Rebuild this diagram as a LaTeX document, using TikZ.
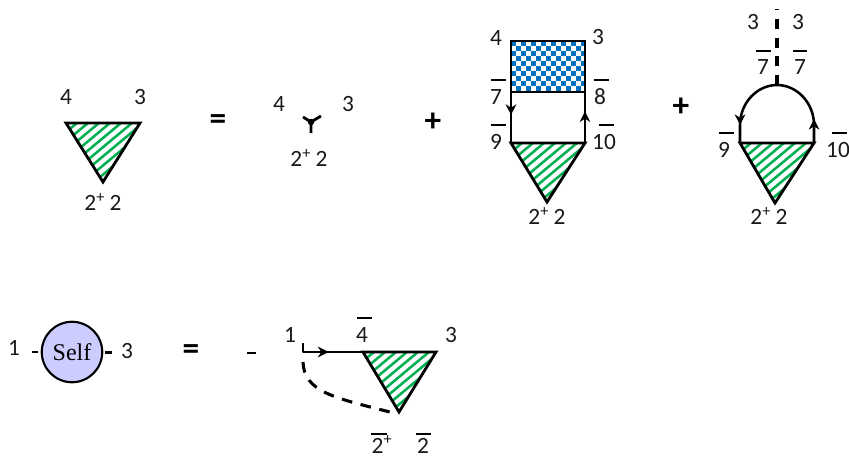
\documentclass[tikz,border=0pt]{standalone}
\usepackage{fontspec}
\setmainfont{Carlito}
\newfontfamily\selffont{Liberation Serif}
\usetikzlibrary{arrows.meta,decorations.markings}
\definecolor{hgreen}{HTML}{00B050}
\definecolor{hblue}{HTML}{0070C0}
\definecolor{selffill}{HTML}{CCCCFF}
\tikzset{
  lab/.style={inner sep=0pt,font=\fontsize{17.5}{17.5}\selectfont,text=black!90},
  sym/.style={inner sep=0pt,font=\fontsize{25}{25}\selectfont\bfseries},
  edge/.style={line width=2.1pt,line join=miter},
  bar/.style={line width=1.9pt},
  tipmid/.style={postaction={decorate},decoration={markings,mark=at position #1 with {\arrow{Stealth[length=8pt,width=8pt]}}}},
}
\newcommand{\hatchtri}[3]{%
  \begin{scope}
    \clip (#1) -- (#2) -- (#3) -- cycle;
    \begin{scope}[shift={(#1)}]
      \foreach \i in {0,11,...,187}
        \draw[hgreen,line width=1.9pt] (\i,0) -- (\i-84,70);
    \end{scope}
  \end{scope}
  \draw[edge] (#1) -- (#2) -- (#3) -- cycle;
}
\begin{document}
\begin{tikzpicture}[x=0.75pt,y=-0.75pt]
\useasboundingbox (0,0) rectangle (849,458);

% first triangle
\coordinate (a1) at (66,123); \coordinate (a2) at (140,123); \coordinate (a3) at (103,182);
\hatchtri{a1}{a2}{a3}
\node[lab] (a4) at (66,97) {4};
\node[lab] (a5) at (140,97) {3};
\node[lab] (a6) at (103,202) {2\textsuperscript{+}\hspace{3.5pt}2};
\node[sym] (eq1) at (218,122) {=};

% small vertex
\coordinate (v0) at (311,122); \coordinate (v1) at (303,117); \coordinate (v2) at (321,116); \coordinate (v3) at (311,133);
\draw[edge] (v1) -- (v0) -- (v2) (v0) -- (v3);
\fill (v0) circle (3.2);
\node[lab] (v4) at (279,104) {4};
\node[lab] (v5) at (348,104) {3};
\node[lab] (v6) at (309,158) {2\textsuperscript{+}\hspace{3.5pt}2};
\node[sym] (pl1) at (433,122) {+};

% box diagram
\coordinate (b1) at (511,41); \coordinate (b2) at (585,41); \coordinate (b3) at (511,92); \coordinate (b4) at (585,92);
\coordinate (b5) at (511,143); \coordinate (b6) at (585,143); \coordinate (b7) at (547,202);
\begin{scope}
  \clip (b1) rectangle (b4);
  \begin{scope}[shift={(b1)}]
    \foreach \i in {0,...,14} \foreach \j in {0,...,10} {
      \pgfmathparse{int(mod(\i+\j,2))}
      \ifnum\pgfmathresult=0
        \fill[hblue] (\i*5,\j*5) rectangle ++(5,5);
      \fi
    }
  \end{scope}
\end{scope}
\hatchtri{b5}{b6}{b7}
\draw[edge] (b1) rectangle (b4);
\draw[edge,tipmid=0.45] (b3) -- (b5);
\draw[edge,tipmid=0.62] (b6) -- (b4);
\node[lab] (b8) at (496,38) {4};
\node[lab] (b9) at (598,37) {3};
\node[lab] (b10) at (496,97) {7};
\node[lab] (b11) at (600,97) {8};
\node[lab] (b12) at (496,142) {9};
\node[lab] (b13) at (604,142) {10};
\node[lab] (b14) at (547,216) {2\textsuperscript{+}\hspace{3.5pt}2};
\draw[bar] (491,80) -- (506,80) (594,80) -- (609,80) (491,125) -- (506,125) (599,125) -- (614,125);

% loop diagram
\node[sym] (pl2) at (681,107) {+};
\coordinate (c1) at (740,143); \coordinate (c2) at (814,143); \coordinate (c3) at (775,203);
\coordinate (c4) at (777,85); \coordinate (c5) at (777,9);
\coordinate (cl) at (740,125); \coordinate (cr) at (814,125);
\coordinate (tl1) at (740,120); \coordinate (tl2) at (740,130);
\coordinate (tr1) at (814,124); \coordinate (tr2) at (814,114);
\hatchtri{c1}{c2}{c3}
\draw[edge,dash pattern=on 7.5pt off 6.5pt,line width=2.7pt] (c4) -- (c5);
\draw[edge,line width=1.9pt] (c2) -- (cr) .. controls (814,103) and (797,85) .. (c4) .. controls (757,85) and (740,103) .. (cl) -- (c1);
\path[tipmid=0.5] (tl1) -- (tl2);
\path[tipmid=0.5] (tr1) -- (tr2);
\node[lab] (c6) at (753,22) {3};
\node[lab] (c7) at (798,22) {3};
\node[lab] (c8) at (763,67) {7};
\node[lab] (c9) at (800,67) {7};
\node[lab] (c10) at (724,150) {9};
\node[lab] (c11) at (838,150) {10};
\node[lab] (c12) at (769,216) {2\textsuperscript{+}\hspace{3.5pt}2};
\draw[bar] (756,51) -- (771,51) (793,51) -- (807,51) (719,133) -- (734,133) (832,133) -- (847,133);

% self energy
\node[circle,draw,line width=1.6pt,fill=selffill,minimum size=60.5*0.75pt,inner sep=0pt,font=\fontsize{18}{18}\selectfont\selffont] (s) at (72,352) {Self};
\coordinate (s1) at (32,352); \coordinate (s2) at (38,352); \coordinate (s3) at (105,352.5); \coordinate (s4) at (112,352.5);
\draw[edge] (s1) -- (s2) (s3) -- (s4);
\node[lab] (s5) at (14,348) {1};
\node[lab] (s6) at (127,351) {3};
\node[sym] (eq2) at (191,352) {=};
\coordinate (m1) at (247,353); \coordinate (m2) at (256,353);
\draw[line width=2.1pt] (m1) -- (m2);

% lower diagram
\coordinate (d0) at (303,343); \coordinate (d1) at (303,352); \coordinate (d2) at (363,352); \coordinate (d3) at (436,352); \coordinate (d4) at (399,412);
\coordinate (d5) at (303,362); \coordinate (d6) at (390,412);
\hatchtri{d2}{d3}{d4}
\draw[edge,line join=round,tipmid=0.5] (d0) -- (d1) -- (d2);
\draw[edge,dash pattern=on 8pt off 6.5pt,line width=2.3pt] (d5) .. controls (304,392) and (335,398) .. (d6);
\node[lab] (d7) at (290,335) {1};
\node[lab] (d8) at (362,335) {4};
\node[lab] (d9) at (451,335) {3};
\node[lab,anchor=base] (d10) at (382,453) {2\textsuperscript{+}};
\node[lab,anchor=base] (d11) at (423,453) {2};
\draw[bar] (371,434) -- (387,434) (416,434) -- (431,434) (357,318) -- (372,318);
\end{tikzpicture}
\end{document}
